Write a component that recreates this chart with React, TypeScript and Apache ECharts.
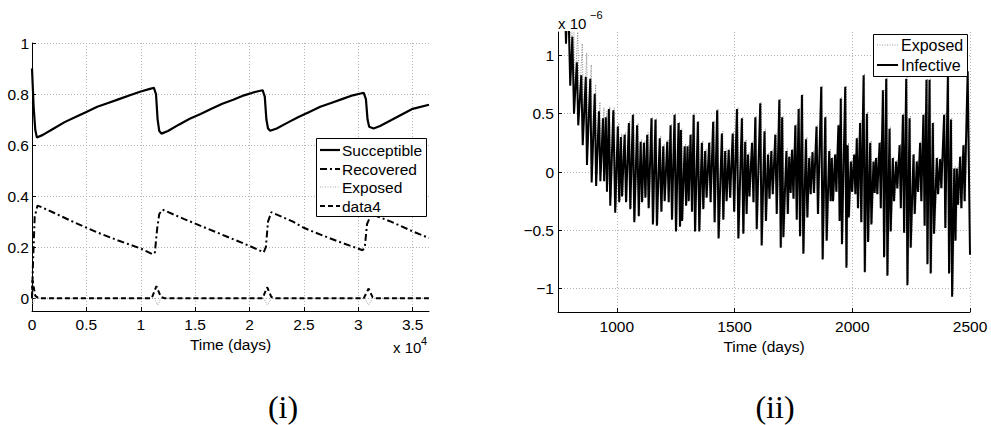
import React, { useEffect, useRef } from 'react';
import * as echarts from 'echarts';

// ---------- Panel (i): SEIR fractions over 100 years ----------
const leftXTicks = [0, 5000, 10000, 15000, 20000, 25000, 30000, 35000];
const leftYTicks = [0, 0.2, 0.4, 0.6, 0.8, 1];

const susceptible: [number, number][] = [
  [0, 0.9], [150, 0.75], [300, 0.66], [450, 0.63], [1000, 0.64], [2000, 0.665], [3000, 0.69],
  [4000, 0.71], [5000, 0.73], [6000, 0.75], [7000, 0.765], [8000, 0.78], [9000, 0.795],
  [10000, 0.81], [11000, 0.822], [11200, 0.825], [11400, 0.8], [11550, 0.7], [11700, 0.655],
  [11900, 0.645], [12500, 0.655], [13500, 0.68], [14500, 0.703], [15500, 0.722], [16500, 0.742],
  [17500, 0.762], [18500, 0.778], [19500, 0.795], [20500, 0.808], [21200, 0.815], [21400, 0.79],
  [21550, 0.7], [21700, 0.665], [21900, 0.656], [22500, 0.665], [23500, 0.688], [24500, 0.71],
  [25500, 0.73], [26500, 0.75], [27500, 0.765], [28500, 0.78], [29500, 0.795], [30300, 0.803],
  [30500, 0.805], [30700, 0.78], [30850, 0.7], [31000, 0.672], [31400, 0.665], [32000, 0.675],
  [33000, 0.697], [34000, 0.72], [35000, 0.742], [36500, 0.758],
];

const recovered: [number, number][] = [
  [0, 0.0], [100, 0.15], [250, 0.32], [500, 0.362], [700, 0.36], [2000, 0.335], [4000, 0.295],
  [6000, 0.258], [8000, 0.225], [10000, 0.195], [11100, 0.172], [11300, 0.18], [11500, 0.27],
  [11700, 0.33], [12000, 0.347], [14000, 0.31], [16000, 0.275], [18000, 0.24], [20000, 0.205],
  [21300, 0.18], [21500, 0.2], [21700, 0.3], [22000, 0.337], [24000, 0.3], [25000, 0.276],
  [26000, 0.258], [28000, 0.225], [30400, 0.188], [30600, 0.2], [30800, 0.29], [31200, 0.33],
  [33000, 0.3], [35000, 0.262], [36500, 0.236],
];

const exposedLeft: [number, number][] = [
  [0, 0.02], [80, -0.025], [300, 0], [11250, 0], [11550, -0.027], [11850, 0], [21300, 0],
  [21650, -0.027], [22000, 0], [30600, 0], [30950, -0.027], [31300, 0], [36500, 0],
];

const data4: [number, number][] = [
  [0, 0.0], [50, 0.07], [300, 0.01], [600, 0], [11000, 0], [11440, 0.047], [11850, 0.005],
  [12200, 0], [21200, 0], [21620, 0.043], [22000, 0.005], [22400, 0], [30500, 0],
  [30950, 0.038], [31300, 0.005], [31600, 0], [36500, 0],
];

// ---------- Panel (ii): Exposed and Infective, days 750-2500 (x 1e-6) ----------
const rightXTicks = [1000, 1500, 2000, 2500];
const rightYTicks = [-1, -0.5, 0, 0.5, 1];

const infective: [number, number][] = [
  [750, 2.2], [762, 1.5], [772, 2.0], [784, 1.1], [792, 1.6], [802, 0.74], [811, 1.16], [818, 0.5],
  [830, 0.94], [836, 0.4], [849, 0.83], [855, 0.23], [868, 0.815], [873, 0.06], [887, 0.8], [893, -0.09],
  [906, 0.67], [912, -0.12], [924, 0.52], [930, -0.08], [941, 0.46], [946, -0.08], [953, 0.47], [958, -0.17],
  [966, 0.54], [972, -0.29], [985, 0.53], [993, -0.35], [1004, 0.39], [1010, -0.26], [1017, 0.3], [1022, -0.21],
  [1033, 0.32], [1039, -0.26], [1051, 0.42], [1057, -0.32], [1068, 0.49], [1074, -0.43], [1086, 0.4], [1093, -0.38],
  [1101, 0.26], [1107, -0.26], [1115, 0.25], [1121, -0.22], [1129, 0.32], [1135, -0.31], [1147, 0.46], [1153, -0.45],
  [1164, 0.45], [1170, -0.46], [1182, 0.29], [1189, -0.34], [1197, 0.22], [1203, -0.25], [1214, 0.26], [1220, -0.26],
  [1228, 0.4], [1234, -0.41], [1245, 0.49], [1251, -0.51], [1262, 0.42], [1268, -0.47], [1272, 0.36], [1277, -0.42],
  [1288, 0.22], [1294, -0.29], [1300, 0.22], [1305, -0.25], [1313, 0.32], [1319, -0.34], [1326, 0.49], [1332, -0.51],
  [1344, 0.43], [1350, -0.51], [1361, 0.25], [1367, -0.32], [1375, 0.18], [1381, -0.22], [1392, 0.25], [1398, -0.26],
  [1409, 0.43], [1415, -0.43], [1426, 0.53], [1432, -0.57], [1446, 0.33], [1452, -0.41], [1460, 0.18], [1466, -0.25],
  [1475, 0.19], [1481, -0.22], [1492, 0.33], [1498, -0.34], [1510, 0.54], [1516, -0.57], [1531, 0.46], [1537, -0.53],
  [1545, 0.26], [1551, -0.36], [1557, 0.15], [1563, -0.21], [1574, 0.25], [1580, -0.26], [1588, 0.47], [1594, -0.49],
  [1609, 0.59], [1615, -0.63], [1627, 0.35], [1633, -0.42], [1642, 0.15], [1648, -0.23], [1656, 0.18], [1662, -0.19],
  [1673, 0.32], [1679, -0.36], [1690, 0.62], [1696, -0.65], [1702, 0.47], [1707, -0.56], [1720, 0.18], [1726, -0.36],
  [1732, 0.13], [1738, -0.18], [1744, 0.19], [1750, -0.23], [1758, 0.4], [1764, -0.41], [1772, 0.54], [1778, -0.55],
  [1786, 0.66], [1792, -0.7], [1803, 0.28], [1809, -0.39], [1817, 0.12], [1823, -0.19], [1831, 0.17], [1837, -0.18],
  [1848, 0.39], [1854, -0.36], [1868, 0.73], [1874, -0.75], [1885, 0.47], [1891, -0.59], [1902, 0.18], [1908, -0.25],
  [1913, 0.12], [1918, -0.25], [1927, 0.15], [1932, -0.17], [1941, 0.4], [1946, -0.42], [1951, 0.63], [1956, -0.62],
  [1970, 0.73], [1975, -0.82], [1980, 0.23], [1985, -0.39], [1994, 0.09], [1999, -0.17], [2008, 0.15], [2013, -0.19],
  [2019, 0.29], [2024, -0.31], [2033, 0.42], [2038, -0.43], [2048, 0.83], [2053, -0.86], [2062, 0.5], [2067, -0.6],
  [2076, 0.25], [2081, -0.45], [2090, 0.09], [2095, -0.18], [2101, 0.12], [2106, -0.19], [2116, 0.25], [2121, -0.31],
  [2130, 0.7], [2135, -0.73], [2144, 0.8], [2149, -0.89], [2158, 0.37], [2163, -0.51], [2172, 0.12], [2177, -0.25],
  [2186, 0.09], [2191, -0.14], [2201, 0.23], [2206, -0.31], [2215, 0.49], [2220, -0.52], [2229, 0.8], [2234, -0.97],
  [2243, 0.46], [2248, -0.65], [2260, 0.15], [2265, -0.36], [2274, 0.09], [2279, -0.17], [2288, 0.25], [2293, -0.25],
  [2302, 0.49], [2307, -0.46], [2315, 0.79], [2319, -0.79], [2328, 0.79], [2333, -0.87], [2342, 0.42], [2347, -0.53],
  [2359, 0.12], [2364, -0.19], [2373, 0.11], [2378, -0.14], [2390, 0.49], [2395, -0.48], [2406, 0.83], [2411, -0.87],
  [2419, 0.45], [2424, -1.07], [2433, 0.03], [2438, -0.59], [2444, 0.03], [2449, -0.28], [2458, 0.13], [2463, -0.31],
  [2472, 0.23], [2477, -0.25], [2490, 0.86], [2500, -0.71],
];

const exposedRight: [number, number][] = [
  [750, 2.6], [766, 1.8], [776, 2.4], [788, 1.4], [796, 1.9], [806, 1.0], [815, 1.45], [822, 0.7],
  [834, 1.2], [840, 0.55], [853, 1.1], [859, 0.4], [872, 1.02], [877, 0.22], [891, 0.92], [897, 0.05],
  [910, 0.75], [916, -0.02], [928, 0.6], [934, 0.0], [945, 0.55], [950, -0.02], [957, 0.52], [962, -0.1],
  [970, 0.56], [976, -0.22], [989, 0.55], [997, -0.3], [1008, 0.42], [1014, -0.24], [1021, 0.33], [1026, -0.2],
  [1037, 0.34], [1043, -0.25], [1055, 0.44], [1061, -0.31], [1072, 0.5], [1078, -0.41], [1090, 0.42], [1097, -0.37],
  [1105, 0.28], [1111, -0.25], [1119, 0.27], [1125, -0.21], [1133, 0.34], [1139, -0.3], [1151, 0.47], [1157, -0.43],
  [1168, 0.46], [1174, -0.45], [1186, 0.31], [1193, -0.33], [1201, 0.24], [1207, -0.24], [1218, 0.28], [1224, -0.26],
  [1232, 0.41], [1238, -0.4], [1249, 0.5], [1255, -0.5], [1266, 0.43], [1272, -0.46], [1276, 0.37], [1281, -0.41],
  [1292, 0.24], [1298, -0.28], [1304, 0.23], [1309, -0.24], [1317, 0.33], [1323, -0.33], [1330, 0.5], [1336, -0.5],
  [1348, 0.44], [1354, -0.5], [1365, 0.27], [1371, -0.31], [1379, 0.2], [1385, -0.21], [1396, 0.26], [1402, -0.26],
  [1413, 0.44], [1419, -0.43], [1430, 0.54], [1436, -0.56], [1450, 0.35], [1456, -0.4], [1464, 0.2], [1470, -0.24],
  [1479, 0.2], [1485, -0.22], [1496, 0.34], [1502, -0.34], [1514, 0.55], [1520, -0.56], [1535, 0.47], [1541, -0.52],
  [1549, 0.28], [1555, -0.35], [1561, 0.17], [1567, -0.21], [1578, 0.26], [1584, -0.26], [1592, 0.48], [1598, -0.48],
  [1613, 0.6], [1619, -0.62], [1631, 0.37], [1637, -0.41], [1646, 0.17], [1652, -0.23], [1660, 0.19], [1666, -0.19],
  [1677, 0.33], [1683, -0.35], [1694, 0.63], [1700, -0.64], [1706, 0.48], [1711, -0.55], [1724, 0.2], [1730, -0.35],
  [1736, 0.15], [1742, -0.18], [1748, 0.2], [1754, -0.23], [1762, 0.41], [1768, -0.4], [1776, 0.55], [1782, -0.54],
  [1790, 0.67], [1796, -0.69], [1807, 0.3], [1813, -0.38], [1821, 0.14], [1827, -0.19], [1835, 0.18], [1841, -0.18],
  [1852, 0.4], [1858, -0.36], [1872, 0.74], [1878, -0.74], [1889, 0.48], [1895, -0.58], [1906, 0.2], [1912, -0.25],
  [1917, 0.13], [1922, -0.24], [1931, 0.16], [1936, -0.17], [1945, 0.41], [1950, -0.41], [1955, 0.64], [1960, -0.61],
  [1974, 0.74], [1979, -0.8], [1984, 0.25], [1989, -0.38], [1998, 0.1], [2003, -0.17], [2012, 0.16], [2017, -0.19],
  [2023, 0.3], [2028, -0.31], [2037, 0.44], [2042, -0.43], [2052, 0.84], [2057, -0.85], [2066, 0.52], [2071, -0.59],
  [2080, 0.27], [2085, -0.44], [2094, 0.1], [2099, -0.18], [2105, 0.13], [2110, -0.19], [2120, 0.27], [2125, -0.31],
  [2134, 0.71], [2139, -0.72], [2148, 0.81], [2153, -0.88], [2162, 0.39], [2167, -0.5], [2176, 0.13], [2181, -0.25],
  [2190, 0.1], [2195, -0.14], [2205, 0.24], [2210, -0.31], [2219, 0.5], [2224, -0.52], [2233, 0.81], [2238, -0.95],
  [2247, 0.48], [2252, -0.64], [2264, 0.16], [2269, -0.35], [2278, 0.1], [2283, -0.17], [2292, 0.26], [2297, -0.25],
  [2306, 0.5], [2311, -0.46], [2319, 0.8], [2323, -0.78], [2332, 0.8], [2337, -0.86], [2346, 0.43], [2351, -0.52],
  [2363, 0.13], [2368, -0.19], [2377, 0.12], [2382, -0.14], [2394, 0.5], [2399, -0.48], [2410, 0.84], [2415, -0.86],
  [2423, 0.46], [2428, -1.05], [2437, 0.05], [2442, -0.58], [2448, 0.04], [2453, -0.28], [2462, 0.14], [2467, -0.31],
  [2476, 0.24], [2481, -0.25], [2494, 0.87], [2500, -0.4],
];

const FONT = "'Liberation Sans', Arial, Helvetica, sans-serif";
const SERIF = "'Liberation Serif', 'DejaVu Serif', serif";
const GRID_LINE = { color: '#b4b4b4', type: [1, 2] as number[], width: 1 };

function axisBase(ticks: number[], formatter: (v: number) => string, margin: number) {
  return {
    axisLine: { show: true, onZero: false, lineStyle: { color: '#000', width: 1 } },
    axisTick: { show: true, inside: true, length: 4, customValues: ticks, lineStyle: { color: '#000' } },
    axisLabel: {
      customValues: ticks, color: '#000', fontSize: 15.5, fontFamily: FONT, margin, formatter,
    },
    splitLine: { show: true, lineStyle: GRID_LINE },
  };
}

const fmtMinus = (v: number) => {
  const r = Math.round(v * 100) / 100;
  if (r === 0) return '0';
  return r < 0 ? '\u2212' + String(-r) : String(r);
};

function txt(x: number, y: number, text: string, size: number, family = FONT, align = 'left') {
  return {
    type: 'text', x, y, z: 100,
    style: {
      text, fill: '#000', font: `${size}px ${family}`,
      align, textAlign: align, verticalAlign: 'middle', textVerticalAlign: 'middle',
    },
  };
}

function legendLine(x1: number, x2: number, y: number, color: string, width: number, dash: number[] | null) {
  return {
    type: 'line', z: 100,
    shape: { x1, y1: y, x2, y2: y },
    style: { stroke: color, lineWidth: width, lineDash: dash || undefined },
  };
}

export default function App() {
  const ref = useRef<HTMLDivElement>(null);

  useEffect(() => {
    const chart = echarts.init(ref.current!, null, { renderer: 'svg' });
    const option: any = {
      animation: false,
      backgroundColor: '#fff',
      grid: [
        { left: 32, top: 43, width: 397, height: 268 },
        { left: 558, top: 32, width: 412, height: 280 },
      ],
      xAxis: [
        {
          type: 'value', gridIndex: 0, min: 0, max: 36500,
          name: 'Time (days)', nameLocation: 'middle', nameGap: 19,
          nameTextStyle: { color: '#000', fontSize: 15.5, fontFamily: FONT },
          ...axisBase(leftXTicks, (v: number) => String(Math.round(v / 1000) / 10), 5),
        },
        {
          type: 'value', gridIndex: 1, min: 750, max: 2500,
          name: 'Time (days)', nameLocation: 'middle', nameGap: 20,
          nameTextStyle: { color: '#000', fontSize: 15.5, fontFamily: FONT },
          ...axisBase(rightXTicks, (v: number) => String(v), 6),
        },
      ],
      yAxis: [
        {
          type: 'value', gridIndex: 0, min: -0.05, max: 1,
          ...axisBase(leftYTicks, fmtMinus, 3),
        },
        {
          type: 'value', gridIndex: 1, min: -1.2, max: 1.2,
          ...axisBase(rightYTicks, fmtMinus, 4),
        },
      ],
      series: [
        {
          name: 'Succeptible', type: 'line', xAxisIndex: 0, yAxisIndex: 0, data: susceptible,
          showSymbol: false, symbol: 'none', clip: true, silent: true, z: 5,
          lineStyle: { color: '#000', width: 2.2, type: 'solid' },
        },
        {
          name: 'Recovered', type: 'line', xAxisIndex: 0, yAxisIndex: 0, data: recovered,
          showSymbol: false, symbol: 'none', clip: true, silent: true, z: 4,
          lineStyle: { color: '#000', width: 2, type: [7, 3, 2, 3] },
        },
        {
          name: 'Exposed', type: 'line', xAxisIndex: 0, yAxisIndex: 0, data: exposedLeft,
          showSymbol: false, symbol: 'none', clip: true, silent: true, z: 3,
          lineStyle: { color: '#999', width: 1, type: [1, 1.5] },
        },
        {
          name: 'data4', type: 'line', xAxisIndex: 0, yAxisIndex: 0, data: data4,
          showSymbol: false, symbol: 'none', clip: true, silent: true, z: 4,
          lineStyle: { color: '#000', width: 2, type: [5, 3] },
        },
        {
          name: 'Exposed', type: 'line', xAxisIndex: 1, yAxisIndex: 1, data: exposedRight,
          showSymbol: false, symbol: 'none', clip: true, silent: true, z: 3,
          lineStyle: { color: '#888', width: 1, type: [1, 1.5] },
        },
        {
          name: 'Infective', type: 'line', xAxisIndex: 1, yAxisIndex: 1, data: infective,
          showSymbol: false, symbol: 'none', clip: true, silent: true, z: 4,
          lineStyle: { color: '#000', width: 2, type: 'solid' },
        },
      ],
      graphic: [
        // legend (i)
        { type: 'rect', z: 99, shape: { x: 316.5, y: 138.5, width: 110, height: 78 },
          style: { fill: '#fff', stroke: '#000', lineWidth: 1 } },
        legendLine(320, 340, 150, '#000', 2.2, null),
        legendLine(320, 340, 169, '#000', 2, [7, 3, 2, 3]),
        legendLine(320, 340, 187, '#aaa', 1, [1, 1.5]),
        legendLine(320, 340, 206, '#000', 2, [5, 3]),
        txt(342, 150, 'Succeptible', 15.5),
        txt(342, 169, 'Recovered', 15.5),
        txt(342, 187, 'Exposed', 15.5),
        txt(342, 206, 'data4', 15.5),
        // legend (ii)
        { type: 'rect', z: 99, shape: { x: 873.5, y: 34.5, width: 94, height: 42 },
          style: { fill: '#fff', stroke: '#000', lineWidth: 1 } },
        legendLine(877, 898, 45, '#999', 1, [1, 1.5]),
        legendLine(877, 898, 65, '#000', 2, null),
        txt(901, 45, 'Exposed', 16),
        txt(901, 65, 'Infective', 16),
        // exponents
        txt(393, 347, 'x 10', 15),
        txt(421, 341, '4', 11),
        txt(558, 23, 'x 10', 15),
        txt(590, 15, '\u22126', 11),
        // captions
        txt(283, 407, '(i)', 32, SERIF, 'center'),
        txt(775, 407, '(ii)', 32, SERIF, 'center'),
      ],
    };
    chart.setOption(option);
    return () => chart.dispose();
  }, []);

  return (
    <div
      ref={ref}
      style={{ position: 'fixed', left: 0, top: 0, width: 991, height: 425, background: '#fff' }}
    />
  );
}
